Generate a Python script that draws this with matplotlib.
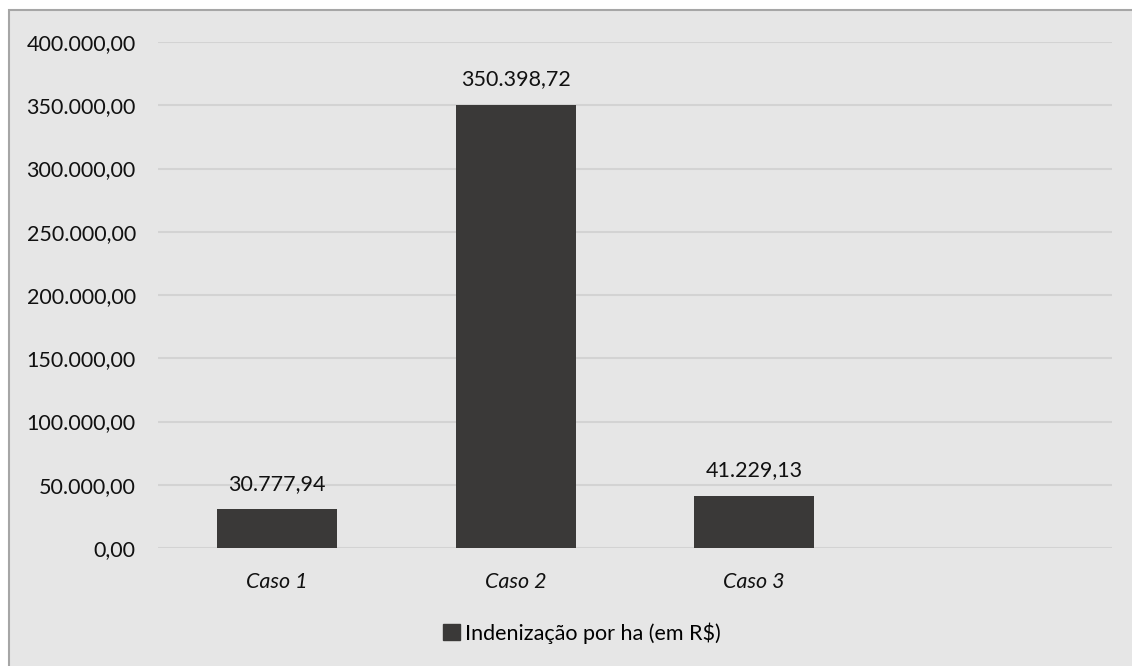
import matplotlib
matplotlib.use('Agg')
import matplotlib.pyplot as plt
from matplotlib.patches import Rectangle, Patch

casos   = ["Caso 1", "Caso 2", "Caso 3"]
valores = [30777.94, 350398.72, 41229.13]
yticks  = [0, 50000, 100000, 150000, 200000, 250000, 300000, 350000, 400000]
serie   = "Indenização por ha (em R$)"

bg      = '#e6e6e6'
grid_c  = '#d3d3d3'
bar_c   = '#3a3938'
txt_c   = '#111111'
fs      = 15.5

def fmt_br(v):
    s = f"{v:,.2f}"
    return s.replace(',', 'X').replace('.', ',').replace('X', '.')

plt.rcParams['font.family'] = ['Lato', 'DejaVu Sans']

W, H = 1132, 666
fig = plt.figure(figsize=(W/100, H/100), dpi=100)
fig.patch.set_facecolor('white')

# chart area with grey frame (right/bottom edges run off the canvas)
fig.patches.append(Rectangle((9/W, -0.05), 1.1, 1.05 - 10/H, transform=fig.transFigure,
                             facecolor=bg, edgecolor='#a6a6a6', lw=1.5, zorder=-5))

ax = fig.add_axes([158/W, 118/H, (1112-158)/W, (548-42)/H])
ax.set_facecolor('none')

x = list(range(len(casos)))
ax.bar(x, valores, width=0.505, color=bar_c, zorder=3)
for xi, v in zip(x, valores):
    ax.annotate(fmt_br(v), (xi, v), xytext=(0, 11), textcoords='offset points',
                ha='center', va='bottom', fontsize=fs, color=txt_c)

ax.set_xlim(-0.5, 3.5)
ax.set_ylim(0, 400000)
ax.set_yticks(yticks)
ax.set_yticklabels([fmt_br(v) for v in yticks], fontsize=fs, color=txt_c)
ax.set_xticks(x)
ax.set_xticklabels(casos, fontsize=fs, style='italic', color=txt_c)
ax.tick_params(length=0)
ax.tick_params(axis='y', pad=16)
ax.tick_params(axis='x', pad=17)
ax.grid(axis='y', color=grid_c, lw=1.5, zorder=0)
for s in ax.spines.values():
    s.set_visible(False)

fig.legend(handles=[Patch(color=bar_c, label=serie)], loc='center',
           bbox_to_anchor=(582/W, 1 - 633/H), frameon=False, fontsize=fs,
           handlelength=0.75, handleheight=0.75, handletextpad=0.25)

fig.savefig('out.png', dpi=100)
